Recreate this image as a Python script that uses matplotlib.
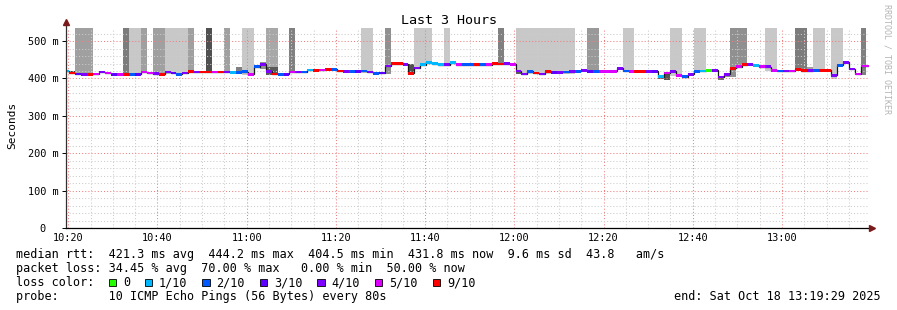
import numpy as np
import matplotlib.pyplot as plt
from matplotlib.patches import Rectangle

# time in minutes after 10:20, one value per 80 s step (first step is cut by the left edge)
t_start = -1.07
step = 80 / 60.0
t_left, t_right = -0.5, 179.5

median = [420, 415, 412, 411, 411, 412, 417, 415, 411, 411, 411, 411, 411, 417, 415, 413,
          411, 417, 415, 411, 415, 418, 417, 417, 417, 417, 417, 417, 416, 416, 418, 411,
          432, 438, 419, 412, 411, 411, 417, 417, 417, 423, 422, 423, 424, 424, 420, 419,
          419, 419, 420, 417, 414, 415, 433, 440, 440, 438, 414, 428, 437, 442, 440, 437,
          437, 442, 437, 437, 437, 437, 437, 437, 440, 439, 440, 438, 420, 412, 419, 415,
          412, 419, 416, 416, 417, 419, 419, 422, 419, 419, 419, 419, 419, 427, 420, 419,
          419, 419, 419, 419, 405, 415, 419, 408, 405, 411, 419, 420, 422, 422, 404, 411,
          427, 432, 437, 438, 435, 432, 432, 422, 420, 420, 420, 424, 421, 421, 422, 422,
          422, 408, 435, 443, 425, 412, 433, 433]
# loss colour class per step (index into loss_colors)
loss = [1, 6, 3, 4, 6, 5, 4, 5, 3, 5, 6, 2, 3, 5, 5, 4,
        6, 4, 3, 2, 4, 6, 4, 6, 6, 5, 6, 4, 1, 2, 2, 5,
        2, 4, 4, 6, 2, 3, 5, 4, 2, 1, 6, 5, 6, 2, 6, 4,
        2, 3, 2, 4, 2, 3, 4, 6, 6, 4, 6, 4, 1, 1, 1, 1,
        4, 1, 5, 2, 2, 6, 2, 5, 6, 6, 4, 5, 4, 4, 2, 6,
        4, 6, 3, 4, 2, 4, 2, 4, 3, 2, 5, 5, 5, 4, 2, 5,
        6, 6, 4, 3, 1, 5, 4, 5, 2, 4, 2, 1, 0, 4, 4, 4,
        6, 5, 6, 4, 1, 5, 4, 5, 2, 4, 5, 6, 6, 4, 2, 6,
        6, 4, 2, 4, 4, 5, 5, 5]

loss_colors = ['#26ff00', '#00b8ff', '#0059ff', '#5e00ff', '#7e00ff', '#dd00ff', '#ff0000']
loss_labels = ['0', '1/10', '2/10', '3/10', '4/10', '5/10', '9/10']

# smoke (ping spread) per step: step index, low, high (ms), grey level
smoke_idx = [2, 3, 4, 10, 11, 12, 13, 15, 16, 17, 18, 19, 20, 21, 24, 27, 30, 31, 34, 35,
             38, 50, 51, 54, 59, 60, 61, 64, 73, 76, 77, 78, 79, 80, 81, 82, 83, 84, 85,
             88, 89, 94, 95, 102, 103, 106, 107, 112, 113, 114, 118, 119, 123, 124, 126, 127,
             129, 130, 134,
             1, 29, 33, 34, 35, 58, 76, 100, 101, 110, 111, 125]
smoke_lo = [411, 411, 411, 411, 411, 411, 415, 411, 411, 411, 411, 411, 411, 416, 415, 415, 409, 409, 410, 410,
            415, 415, 415, 413, 426, 435, 440, 435, 437, 412, 412, 412, 412, 412, 412, 412, 412, 412, 412,
            417, 417, 418, 418, 406, 406, 417, 417, 404, 430, 435, 420, 420, 419, 419, 420, 420,
            398, 433, 410,
            415, 416, 424, 410, 410, 410, 412, 398, 397, 396, 404, 421]
smoke_hi = [700] * 59 + [421, 432, 443, 431, 431, 438, 421, 410, 412, 404, 412, 432]
smoke_gray = ['#a0a0a0'] * 3 + ['#7c7c7c'] + ['#c8c8c8'] * 2 + ['#a0a0a0'] * 3 + ['#c8c8c8'] * 4 + \
             ['#a0a0a0', '#505050', '#a0a0a0', '#c8c8c8', '#c8c8c8', '#a8a8a8', '#a8a8a8', '#808080',
              '#c8c8c8', '#c8c8c8', '#909090'] + ['#c8c8c8'] * 4 + ['#808080'] + ['#c8c8c8'] * 10 + \
             ['#999999'] * 2 + ['#c8c8c8'] * 6 + ['#909090'] * 3 + ['#c8c8c8'] * 2 + ['#7c7c7c'] * 2 + \
             ['#c8c8c8'] * 4 + ['#808080'] + \
             ['#404040', '#808080', '#909090', '#5a5a5a', '#5a5a5a', '#505050', '#606060', '#707070',
              '#555555', '#707070', '#909090', '#a0a0a0']

xtick_pos = [0, 20, 40, 60, 80, 100, 120, 140, 160]
xtick_labels = ['10:20', '10:40', '11:00', '11:20', '11:40', '12:00', '12:20', '12:40', '13:00']
ytick_pos = [0, 100, 200, 300, 400, 500]
ytick_labels = ['0  ', '100 m', '200 m', '300 m', '400 m', '500 m']

legend_rows = [
    'median rtt:  421.3 ms avg  444.2 ms max  404.5 ms min  431.8 ms now  9.6 ms sd  43.8   am/s',
    'packet loss: 34.45 % avg  70.00 % max   0.00 % min  50.00 % now',
    'loss color:',
    'probe:       10 ICMP Echo Pings (56 Bytes) every 80s',
]
end_text = 'end: Sat Oct 18 13:19:29 2025'

MONO = 'DejaVu Sans Mono'
plt.rcParams['font.family'] = MONO

W, H = 897, 310
fig = plt.figure(figsize=(W / 100, H / 100), dpi=100)
fig.patch.set_facecolor('white')
ax = fig.add_axes([66 / W, 1 - 228 / H, 803 / W, 200 / H])

edges = t_start + step * np.arange(len(median) + 1)
med = np.array(median, dtype=float)

# smoke
sidx = np.array(smoke_idx)
ax.bar(edges[sidx], np.array(smoke_hi) - np.array(smoke_lo), width=step, bottom=smoke_lo,
       align='edge', color=smoke_gray, linewidth=0, antialiased=False, zorder=1)

# median line + loss coloured band
ax.stairs(med, edges, baseline=None, color='#1a1a1a', lw=0.9, zorder=3)
hw = 3.6
ax.bar(edges[:-1], 2 * hw, width=step, bottom=med - hw, align='edge',
       color=[loss_colors[c] for c in loss], linewidth=0, antialiased=False, zorder=4)

ax.set_xlim(t_left, t_right)
ax.set_ylim(0, 535)

ax.set_xticks(xtick_pos)
ax.set_xticklabels(xtick_labels)
ax.set_xticks(np.arange(0, 180, 5), minor=True)
ax.set_yticks(ytick_pos)
ax.set_yticklabels(ytick_labels)
ax.set_yticks(np.arange(0, 540, 20), minor=True)
ax.tick_params(axis='x', which='both', length=0, pad=3.6, labelsize=7.4)
ax.tick_params(axis='y', which='major', length=3, width=0.7, pad=2.2, labelsize=7.4)
ax.tick_params(axis='y', which='minor', length=0)

ax.set_axisbelow('line')
ax.grid(which='major', color='#f08080', linestyle=(0, (1, 2)), lw=0.75)
ax.grid(which='minor', color='#cccccc', linestyle=(0, (1, 2)), lw=0.75)

for s in ax.spines.values():
    s.set_visible(False)
ax.plot([0, 0], [0, 1 + 6 / 200], transform=ax.transAxes, color='#303030', lw=0.9, clip_on=False, zorder=6)
ax.plot([0, 1 + 3 / 803], [0, 0], transform=ax.transAxes, color='black', lw=0.9, clip_on=False, zorder=6)
ax.plot([0], [1 + 6 / 200], marker='^', ms=4, color='#7a1a1a', transform=ax.transAxes, clip_on=False, zorder=7)
ax.plot([1 + 3 / 803], [0], marker='>', ms=4, color='#7a1a1a', transform=ax.transAxes, clip_on=False, zorder=7)

fig.text(448.5 / W, 1 - 20 / H, 'Last 3 Hours', ha='center', va='center', fontsize=9.6)
fig.text(12 / W, 1 - 125 / H, 'Seconds', rotation=90, ha='center', va='center', fontsize=8)
fig.text(887 / W, 1 - 4 / H, 'RRDTOOL / TOBI OETIKER', rotation=270, ha='center', va='top',
         fontsize=6, color='#b4b4b4')

row_base = [258, 272, 286, 300]
for txt, y in zip(legend_rows, row_base):
    fig.text(16 / W, 1 - y / H, txt, ha='left', va='baseline', fontsize=8.5)
fig.text(881 / W, 1 - row_base[3] / H, end_text, ha='right', va='baseline', fontsize=8.5)

cw = 7.2
lx = 123.0
for lbl, col in zip(loss_labels, loss_colors):
    fig.patches.append(Rectangle(((lx - 14.5) / W, 1 - 286 / H), 7.5 / W, 7.5 / H, transform=fig.transFigure,
                                 facecolor=col, edgecolor='black', lw=0.6))
    fig.text(lx / W, 1 - row_base[2] / H, lbl, ha='left', va='baseline', fontsize=8.5)
    lx += (len(lbl) + 4) * cw

fig.savefig('out.png', dpi=100, facecolor='white')
